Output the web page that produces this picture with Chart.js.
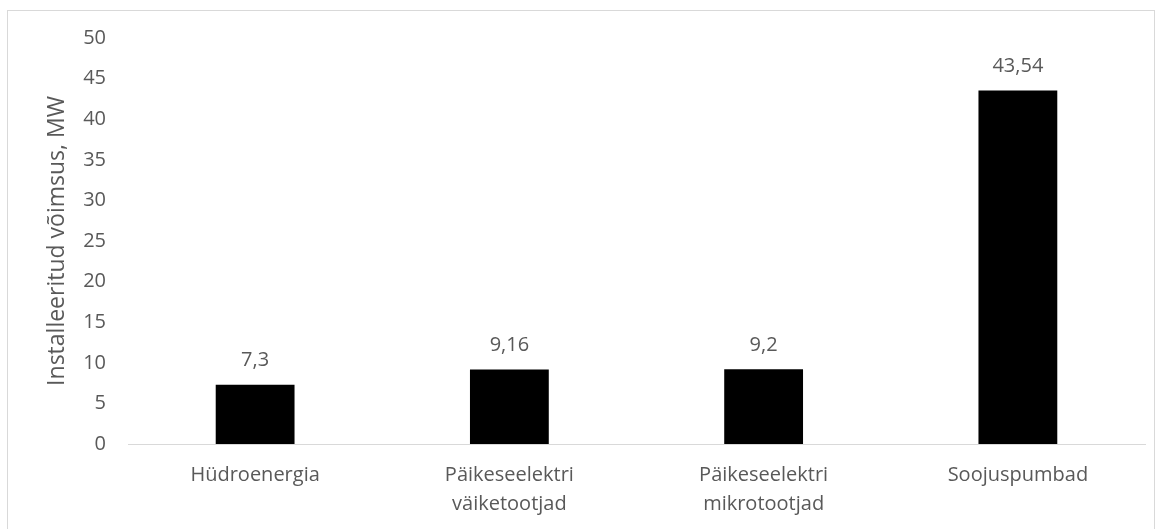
<!DOCTYPE html>
<html>
<head>
<meta charset="utf-8">
<script src="https://cdn.jsdelivr.net/npm/chart.js@4.4.1/dist/chart.umd.min.js"></script>
<style>
    html, body { margin: 0; padding: 0; background: #fff; }
    #frame {
        position: absolute; left: 7px; top: 10px;
        width: 1148px; height: 560px;
        border: 1px solid #d9d9d9; box-sizing: border-box;
    }
    #wrap { position: absolute; left: 0; top: 0; width: 1163px; height: 529px; }
</style>
</head>
<body>
<div id="frame"></div>
<div id="wrap"><canvas id="chart" width="1163" height="529"></canvas></div>
<script>
// installeeritud võimsus tootmisliigi kaupa
const categories = ['Hüdroenergia', ['Päikeseelektri', 'väiketootjad'], ['Päikeseelektri', 'mikrotootjad'], 'Soojuspumbad'];
const capacityMW = [7.3, 9.16, 9.2, 43.54];
const yTicks = [0, 5, 10, 15, 20, 25, 30, 35, 40, 45, 50];

const FONT = '"Open Sans", sans-serif';
const TEXT_COLOR = '#595959';

// väärtuse silt iga tulba kohal, komaga nagu eesti keeles
const valueLabels = {
    id: 'valueLabels',
    afterDatasetsDraw(chart) {
        const ctx = chart.ctx;
        const meta = chart.getDatasetMeta(0);
        ctx.save();
        ctx.font = '20px ' + FONT;
        ctx.fillStyle = TEXT_COLOR;
        ctx.textAlign = 'center';
        ctx.textBaseline = 'middle';
        meta.data.forEach((bar, i) => {
            const text = String(capacityMW[i]).replace('.', ',');
            ctx.fillText(text, bar.x, bar.y - 24);
        });
        ctx.restore();
    }
};

new Chart(document.getElementById('chart'), {
    type: 'bar',
    data: {
        labels: categories,
        datasets: [{
            data: capacityMW,
            backgroundColor: '#000000',
            borderColor: '#000000',
            borderWidth: 0,
            barPercentage: 0.31,
            categoryPercentage: 1.0
        }]
    },
    options: {
        responsive: false,
        animation: false,
        layout: { padding: { top: 38, right: 18, left: 0, bottom: 0 } },
        plugins: {
            legend: { display: false },
            tooltip: { enabled: false }
        },
        scales: {
            x: {
                grid: { display: false, drawTicks: false },
                border: { display: true, color: '#d9d9d9', width: 1 },
                ticks: {
                    color: TEXT_COLOR,
                    font: { family: FONT, size: 20, lineHeight: 1.45 },
                    padding: 17,
                    maxRotation: 0,
                    autoSkip: false
                },
                afterFit(scale) { scale.height = 85; }
            },
            y: {
                min: 0,
                max: 50,
                afterBuildTicks(scale) { scale.ticks = yTicks.map(v => ({ value: v })); },
                grid: { display: false, drawTicks: false },
                border: { display: false },
                ticks: {
                    color: TEXT_COLOR,
                    font: { family: FONT, size: 20 },
                    padding: 22
                },
                title: {
                    display: true,
                    text: 'Installeeritud võimsus, MW',
                    color: TEXT_COLOR,
                    font: { family: FONT, size: 23 },
                    padding: { top: 44, bottom: 0 }
                },
                afterFit(scale) { scale.width = 128; }
            }
        }
    },
    plugins: [valueLabels]
});
</script>
</body>
</html>
